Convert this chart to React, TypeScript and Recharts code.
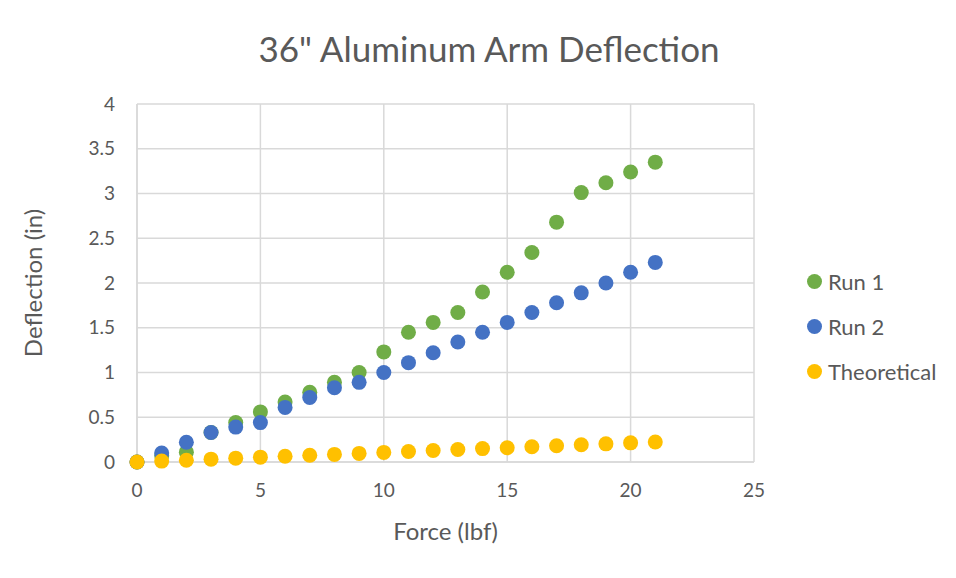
import React from "react";
import { ScatterChart, Scatter, XAxis, YAxis, CartesianGrid } from "recharts";

const forces = [0, 1, 2, 3, 4, 5, 6, 7, 8, 9, 10, 11, 12, 13, 14, 15, 16, 17, 18, 19, 20, 21];
const run1 = [0, 0.07, 0.11, 0.33, 0.44, 0.56, 0.67, 0.78, 0.89, 1.0, 1.23, 1.45, 1.56, 1.67, 1.9, 2.12, 2.34, 2.68, 3.01, 3.12, 3.24, 3.35];
const run2 = [0, 0.1, 0.22, 0.33, 0.39, 0.44, 0.61, 0.72, 0.83, 0.89, 1.0, 1.11, 1.22, 1.34, 1.45, 1.56, 1.67, 1.78, 1.89, 2.0, 2.12, 2.23];
const theoretical = [0, 0.01, 0.02, 0.032, 0.043, 0.054, 0.064, 0.075, 0.085, 0.096, 0.107, 0.118, 0.128, 0.139, 0.15, 0.16, 0.171, 0.182, 0.192, 0.203, 0.214, 0.224];
const xTicks = [0, 5, 10, 15, 20, 25];
const yTicks = [0, 0.5, 1, 1.5, 2, 2.5, 3, 3.5, 4];

const seriesNames = ["Run 1", "Run 2", "Theoretical"];
const seriesColors = ["#70AD47", "#4472C4", "#FFC000"];
const seriesValues = [run1, run2, theoretical];

const toPoints = (vals: number[]) => forces.map((f, i) => ({ x: f, y: vals[i] }));

const FONT = "Lato, 'Open Sans', sans-serif";
const TXT = "#595959";

const Dot = (props: any) => {
  const { cx, cy, fill } = props;
  if (cx == null || cy == null) return null;
  return <circle cx={cx} cy={cy} r={7.5} fill={fill} />;
};

export default function App() {
  return (
    <div style={{ margin: -8, width: 956, height: 578, position: "relative", overflow: "hidden", background: "#fff", fontFamily: FONT }}>
      <div style={{ position: "absolute", left: 5, top: 5, width: 1200, height: 800, border: "1px solid #d9d9d9", boxSizing: "border-box" }} />
      <div style={{ position: "absolute", left: 0, top: 25, width: 978, textAlign: "center", fontSize: 35, color: TXT, lineHeight: "46px" }}>
        36" Aluminum Arm Deflection
      </div>
      <div style={{ position: "absolute", left: 0, top: 0 }}>
        <ScatterChart width={956} height={578} margin={{ top: 104, right: 202, bottom: 86, left: 77 }}>
          <CartesianGrid stroke="#d9d9d9" strokeWidth={1.5} />
          <XAxis
            type="number"
            dataKey="x"
            domain={[0, 25]}
            ticks={xTicks}
            height={30}
            tickLine={false}
            axisLine={{ stroke: "#d9d9d9", strokeWidth: 1.5 }}
            tickSize={0}
            tickMargin={22}
            tick={{ fill: TXT, fontSize: 19, fontFamily: FONT }}
            label={{ value: "Force (lbf)", position: "insideBottom", offset: -48, fill: TXT, fontSize: 24, fontFamily: FONT }}
          />
          <YAxis
            type="number"
            dataKey="y"
            domain={[0, 4]}
            ticks={yTicks}
            width={60}
            tickLine={false}
            axisLine={{ stroke: "#d9d9d9", strokeWidth: 1.5 }}
            tickSize={0}
            tickMargin={22}
            tick={{ fill: TXT, fontSize: 19, fontFamily: FONT }}
            label={{ value: "Deflection (in)", angle: -90, position: "insideLeft", offset: -44, style: { textAnchor: "middle" }, fill: TXT, fontSize: 24, fontFamily: FONT }}
          />
          {seriesNames.map((name, i) => (
            <Scatter
              key={name}
              name={name}
              data={toPoints(seriesValues[i])}
              fill={seriesColors[i]}
              shape={<Dot />}
              isAnimationActive={false}
            />
          ))}
        </ScatterChart>
      </div>
      <div style={{ position: "absolute", left: 807, top: 259 }}>
        {seriesNames.map((name, i) => (
          <div key={name} style={{ display: "flex", alignItems: "center", height: 45, fontSize: 22, color: TXT }}>
            <span style={{ width: 15, height: 15, borderRadius: "50%", background: seriesColors[i], display: "inline-block", marginRight: 6 }} />
            {name}
          </div>
        ))}
      </div>
    </div>
  );
}
